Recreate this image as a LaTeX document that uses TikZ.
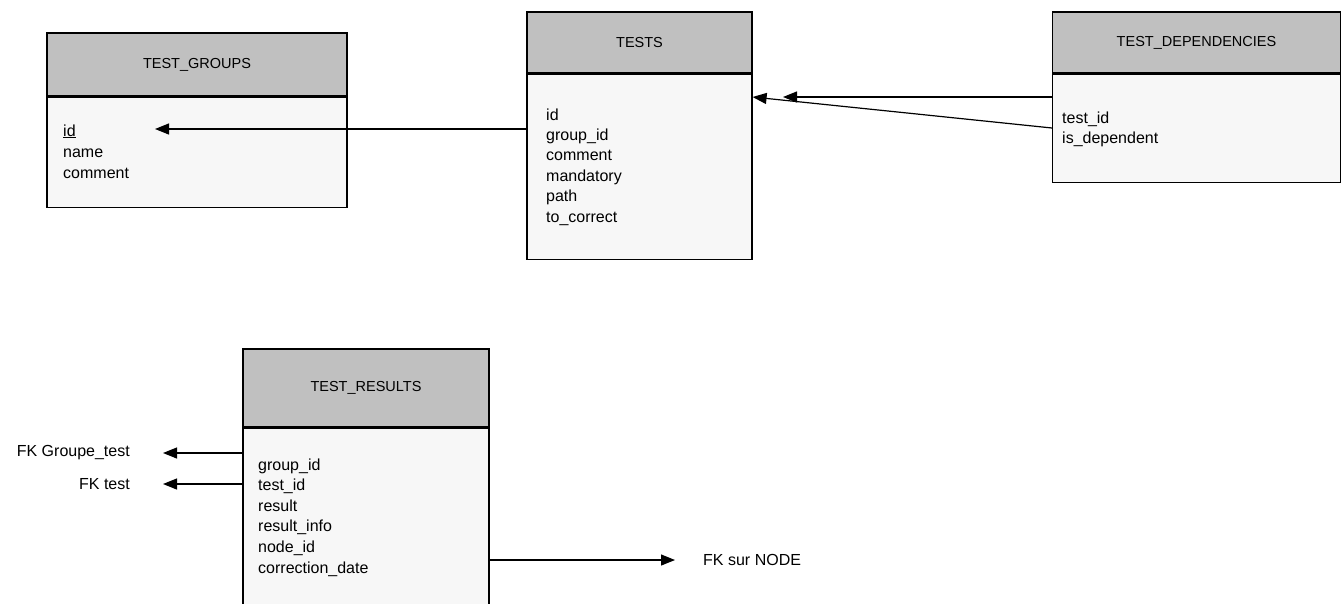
\documentclass[tikz,border=0pt]{standalone}
\usepackage{fontspec}
\setmainfont{Liberation Sans}
\usetikzlibrary{arrows.meta, positioning}
\definecolor{HeadGrau}{RGB}{192,192,192}
\definecolor{BodyGrau}{RGB}{247,247,247}

\begin{document}
\begin{tikzpicture}[x=1pt, y=-1pt, >={Triangle[length=14pt, width=11pt]},
    tblhead/.style={draw, line width=1.2pt, fill=HeadGrau, inner sep=0pt, font=\fontsize{14.5}{16}\selectfont},
    tblbody/.style={draw, line width=1.2pt, fill=BodyGrau, inner sep=0pt},
    field/.style={anchor=base west, inner sep=0pt, font=\fontsize{16}{18}\selectfont},
    fklabel/.style={inner sep=2pt, font=\fontsize{16}{18}\selectfont},
    fk/.style={->, line width=1.2pt}]
\clip (0,0) rectangle (1342,603);

% tables
\node[tblhead, minimum width=300pt, minimum height=63pt] (tg-head) at (197,64.5) {TEST\_GROUPS};
\node[tblbody, minimum width=300pt, minimum height=110pt, anchor=north] (tg-body) at (tg-head.south) {};
\node[tblhead, minimum width=225pt, minimum height=61pt] (tests-head) at (639.5,42.5) {TESTS};
\node[tblbody, minimum width=225pt, minimum height=185pt, anchor=north] (tests-body) at (tests-head.south) {};
\node[tblhead, minimum width=288pt, minimum height=61pt] (td-head) at (1196.5,42.5) {TEST\_DEPENDENCIES};
\node[tblbody, minimum width=288pt, minimum height=108pt, anchor=north] (td-body) at (td-head.south) {};
\node[tblhead, minimum width=246pt, minimum height=78pt] (tr-head) at (366,388) {TEST\_RESULTS};
\node[tblbody, minimum width=246pt, minimum height=200pt, anchor=north] (tr-body) at (tr-head.south) {};

% fields
\foreach \f [count=\i] in {\underline{id}, name, comment}
    \node[field] (tg-\i) at (63, 115+21*\i) {\f};
\foreach \f [count=\i] in {id, group\_id, comment, mandatory, path, to\_correct}
    \node[field] (tests-\i) at (546, 99.6+20.4*\i) {\f};
\foreach \f [count=\i] in {test\_id, is\_dependent}
    \node[field] (td-\i) at (1062, 103+20*\i) {\f};
\foreach \f [count=\i] in {group\_id, test\_id, result, result\_info, node\_id, correction\_date}
    \node[field] (tr-\i) at (258, 449.4+20.6*\i) {\f};

% foreign keys
\coordinate (tg-tip) at (155,129);
\draw[fk] (tests-body.west |- tg-tip) -- (tg-tip);
\coordinate (dep-tip) at (783,97);
\coordinate (dep-src) at (1052,128);
\draw[fk] (td-body.west |- dep-tip) -- (dep-tip);
\draw[fk] (dep-src) -- (tests-body.east |- dep-tip);

\coordinate (grp-tip) at (163,453);
\coordinate (tst-tip) at (163,484);
\coordinate (node-tip) at (675,560);
\node[fklabel, left=31pt of grp-tip] (fk-grp) {FK Groupe\_test};
\node[fklabel, left=31pt of tst-tip] (fk-tst) {FK test};
\node[fklabel, right=26pt of node-tip] (fk-node) {FK sur NODE};
\draw[fk] (tr-body.west |- grp-tip) -- (grp-tip);
\draw[fk] (tr-body.west |- tst-tip) -- (tst-tip);
\draw[fk] (tr-body.east |- node-tip) -- (node-tip);
\end{tikzpicture}
\end{document}
